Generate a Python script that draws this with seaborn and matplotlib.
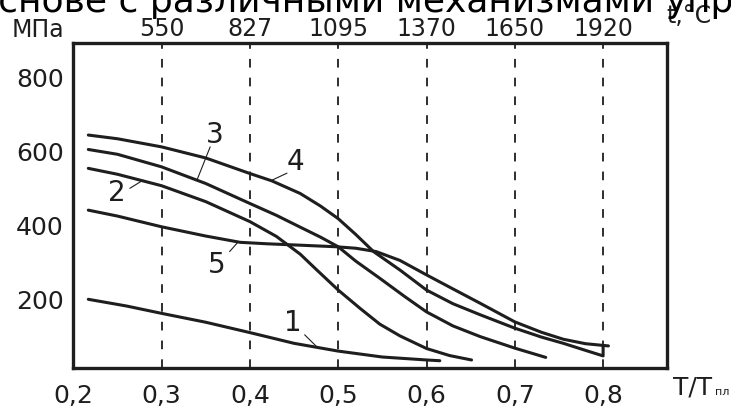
import numpy as np
import pandas as pd
import matplotlib
matplotlib.use("Agg")
import matplotlib.pyplot as plt
import seaborn as sns

# ---- data ----
x_ticks = [0.2, 0.3, 0.4, 0.5, 0.6, 0.7, 0.8]
x_tick_labels = ["0,2", "0,3", "0,4", "0,5", "0,6", "0,7", "0,8"]
top_ticks = [0.3, 0.4, 0.5, 0.6, 0.7, 0.8]
top_tick_labels = ["550", "827", "1095", "1370", "1650", "1920"]
y_ticks = [200, 400, 600, 800]

c1_x = [0.217, 0.26, 0.3, 0.35, 0.4, 0.45, 0.5, 0.55, 0.6, 0.615]
c1_y = [200, 182, 162, 138, 110, 81, 60, 44, 36, 34]

c2_x = [0.217, 0.25, 0.3, 0.35, 0.4, 0.43, 0.457, 0.475, 0.5, 0.525, 0.547, 0.57, 0.6, 0.626, 0.651]
c2_y = [554, 538, 507, 464, 410, 370, 322, 281, 225, 175, 133, 101, 67, 48, 36]

c3_x = [0.217, 0.25, 0.3, 0.35, 0.4, 0.43, 0.457, 0.48, 0.5, 0.52, 0.547, 0.575, 0.6, 0.63, 0.661, 0.7, 0.735]
c3_y = [605, 592, 558, 513, 459, 427, 395, 368, 342, 303, 257, 208, 166, 128, 99, 68, 43]

c4_x = [0.217, 0.25, 0.3, 0.35, 0.4, 0.425, 0.457, 0.48, 0.5, 0.52, 0.54, 0.57, 0.6, 0.63, 0.661, 0.7, 0.73, 0.755, 0.78, 0.8, 0.8]
c4_y = [644, 634, 612, 582, 540, 520, 486, 452, 418, 375, 329, 279, 225, 188, 158, 122, 98, 81, 62, 47, 74]

c5_x = [0.217, 0.25, 0.3, 0.35, 0.389, 0.42, 0.45, 0.498, 0.52, 0.543, 0.57, 0.6, 0.63, 0.661, 0.7, 0.73, 0.755, 0.78, 0.806]
c5_y = [441, 425, 396, 371, 354, 350, 347, 342, 338, 329, 305, 266, 228, 189, 139, 111, 92, 80, 74]

curve_labels = ["1", "2", "3", "4", "5"]
label_pos = [(0.449, 136), (0.249, 486), (0.360, 644), (0.451, 572), (0.362, 293)]
leader_lines = [((0.462, 104), (0.476, 71)),
                ((0.264, 500), (0.279, 522)),
                ((0.355, 612), (0.340, 522)),
                ((0.442, 541), (0.425, 522)),
                ((0.377, 329), (0.387, 356))]

title_text = "основе с различными механизмами упрочнения"

# ---- styling ----
sns.set_theme(style="white")
plt.rcParams["font.family"] = ["DejaVu Sans"]
ink = "#1e1e1e"

W, H = 731, 411
fig = plt.figure(figsize=(W / 100, H / 100), dpi=100)
ax = fig.add_axes([73.3 / W, 1 - 368.3 / H, (666.7 - 73.3) / W, (368.3 - 43.3) / H])

# dashed verticals
for xv in top_ticks:
    ax.axvline(xv, color=ink, lw=1.3, ls=(0, (4.8, 5.6)), zorder=1)

curves = [(c1_x, c1_y), (c2_x, c2_y), (c3_x, c3_y), (c4_x, c4_y), (c5_x, c5_y)]
for cx, cy in curves:
    df = pd.DataFrame({"x": cx, "y": cy})
    sns.lineplot(data=df, x="x", y="y", ax=ax, color=ink, lw=2.2,
                 estimator=None, sort=False, zorder=3)

for lab, (lx, ly), ((ax0, ay0), (ax1, ay1)) in zip(curve_labels, label_pos, leader_lines):
    ax.text(lx, ly, lab, fontsize=20, color=ink, ha="center", va="center")
    ax.plot([ax0, ax1], [ay0, ay1], color=ink, lw=0.8, zorder=3)

ax.set_xlim(0.2, 0.872)
ax.set_ylim(13.5, 892)
ax.set_xticks(x_ticks)
ax.set_xticklabels(x_tick_labels)
ax.set_yticks(y_ticks)
ax.set_yticklabels([str(v) for v in y_ticks])
ax.set_xlabel("")
ax.set_ylabel("")
ax.tick_params(axis="x", length=0, pad=11, labelsize=18, colors=ink)
ax.tick_params(axis="y", direction="in", length=7, width=2, pad=7, labelsize=18, colors=ink)
for s in ax.spines.values():
    s.set_visible(True)
    s.set_linewidth(2.4)
    s.set_color(ink)

top = ax.twiny()
top.set_xlim(ax.get_xlim())
top.set_xticks(top_ticks)
top.set_xticklabels(top_tick_labels)
top.tick_params(axis="x", length=0, pad=2, labelsize=17, colors=ink)
for s in top.spines.values():
    s.set_visible(False)

# axis unit texts
fig.text(12 / W, 1 - 37 / H, "МПа", fontsize=17, color=ink, ha="left", va="baseline")
fig.text(666 / W, 1 - 23 / H, "t,°C", fontsize=17, color=ink, ha="left", va="baseline")
fig.text(673 / W, 1 - 394 / H, "T/T", fontsize=18, color=ink, ha="left", va="baseline")
fig.text(715 / W, 1 - 395 / H, "пл", fontsize=8, color=ink, ha="left", va="baseline")

# cut-off caption at the very top
fig.text(-24 / W, 1 - 12 / H, title_text, fontsize=26, color="black", ha="left", va="baseline")

fig.savefig("out.png", dpi=100, facecolor="white")
